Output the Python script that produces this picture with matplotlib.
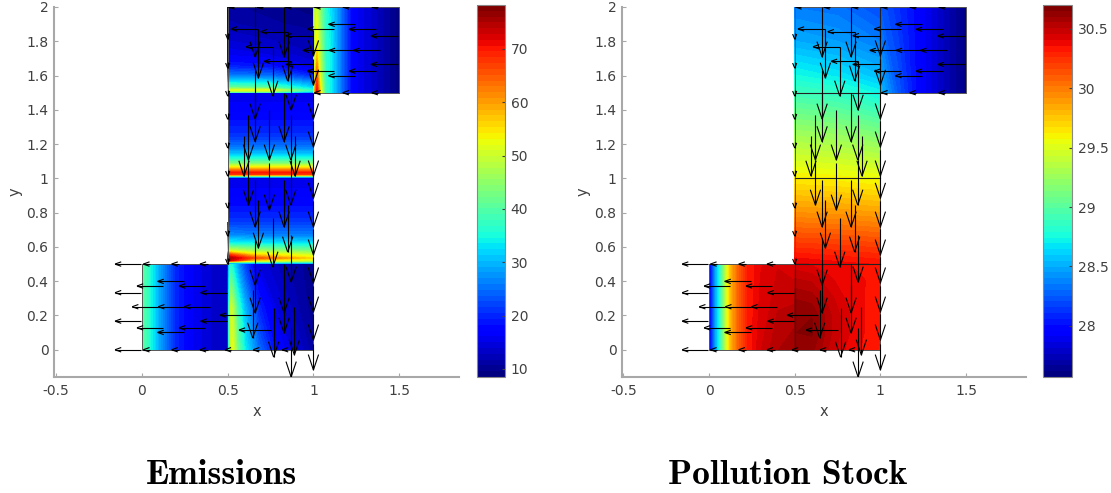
import matplotlib
matplotlib.use("Agg")
import matplotlib.pyplot as plt
import numpy as np
from matplotlib.cm import ScalarMappable
from matplotlib.collections import LineCollection
from matplotlib.colors import Normalize

GRAY = "#a8a8a8"
TEXT = "#404040"

# emissions field, one table per mesh block (rows follow y, columns follow x)
em_a_x = [0, 0.03, 0.06, 0.12, 0.2, 0.3, 0.4, 0.5]
em_a_y = [0, 0.5]
em_a = [[42, 38, 34, 27, 20, 16, 14, 13],
        [42, 38, 34, 27, 20, 16, 14, 13]]

em_b_x = [0.5, 0.505, 0.515, 0.53, 0.56, 0.6, 0.68, 0.78, 0.9, 1.0]
em_b_y = [0, 0.25, 0.5]
em_b = [[15, 33, 50, 52, 42, 34, 25, 18, 14, 11],
        [15, 33, 50, 48, 38, 30, 20, 15, 12, 10],
        [15, 30, 36, 34, 28, 22, 15, 13, 11, 10]]

em_c_x = [0.5, 0.65, 1.0]
em_c_y = [0.5, 0.508, 0.52, 0.535, 0.555, 0.58, 0.62, 0.67, 0.75, 0.85, 1.0]
em_c = [[20, 20, 20], [34, 34, 34], [75, 55, 50], [76, 66, 55], [68, 56, 50], [50, 46, 42],
        [35, 34, 33], [27, 26, 26], [21, 21, 21], [18, 18, 18], [15, 15, 15]]

em_d_x = [0.5, 1.0]
em_d_y = [1.0, 1.008, 1.02, 1.035, 1.06, 1.09, 1.125, 1.18, 1.25, 1.35, 1.5]
em_d = [[18, 18], [34, 34], [68, 68], [70, 70], [58, 58], [44, 44],
        [34, 34], [26, 26], [21, 21], [18, 18], [15, 15]]

em_e_x = [0.5, 0.75, 1.0]
em_e_y = [1.5, 1.505, 1.515, 1.53, 1.56, 1.6, 1.65, 1.72, 1.8, 1.9, 2.0]
em_e = [[25, 25, 20], [45, 45, 32], [52, 52, 36], [42, 40, 32], [34, 33, 27], [26, 25, 20],
        [20, 19, 15], [16, 15, 13], [14, 13, 12], [12, 11, 10], [11, 10, 9]]

em_f_x = [1.0, 1.005, 1.02, 1.04, 1.07, 1.1, 1.15, 1.23, 1.4, 1.5]
em_f_y = [1.5, 1.6, 1.75, 2.0]
em_f = [[32, 55, 72, 55, 38, 34, 27, 17, 12, 9],
        [32, 50, 65, 50, 37, 34, 27, 17, 12, 9],
        [32, 50, 55, 47, 37, 34, 27, 17, 12, 9],
        [32, 48, 50, 44, 36, 33, 27, 17, 12, 9]]

# pollution stock field
st_a_x = [0, 0.01, 0.03, 0.06, 0.1, 0.13, 0.17, 0.22, 0.3, 0.4, 0.5]
st_a_y = [0, 0.5]
st_a = [[27.9, 28.05, 28.4, 28.8, 29.5, 29.85, 30.1, 30.3, 30.45, 30.55, 30.6],
        [27.9, 28.05, 28.4, 28.8, 29.5, 29.85, 30.1, 30.3, 30.4, 30.45, 30.42]]

st_b_x = [0.5, 0.6, 0.7, 0.8, 0.9, 1.0]
st_b_y = [0, 0.1, 0.2, 0.3, 0.4, 0.5]
st_b = [[30.6, 30.62, 30.5, 30.4, 30.35, 30.3],
        [30.65, 30.66, 30.52, 30.42, 30.36, 30.32],
        [30.65, 30.65, 30.52, 30.42, 30.36, 30.33],
        [30.6, 30.58, 30.48, 30.4, 30.36, 30.33],
        [30.52, 30.5, 30.42, 30.38, 30.36, 30.34],
        [30.42, 30.4, 30.38, 30.36, 30.35, 30.34]]

st_c_x = [0.5, 0.75, 1.0]
st_c_y = [0.5, 0.6, 0.8, 1.0, 1.1, 1.25, 1.5, 1.6, 1.8, 2.0]
st_c = [[30.42, 30.38, 30.35], [30.25, 30.23, 30.2], [29.92, 29.9, 29.87], [29.62, 29.6, 29.56],
        [29.48, 29.45, 29.4], [29.28, 29.24, 29.15], [28.9, 28.85, 28.72], [28.75, 28.68, 28.55],
        [28.5, 28.45, 28.35], [28.35, 28.32, 28.2]]

st_f_x = [1.0, 1.1, 1.2, 1.3, 1.4, 1.5]
st_f_y = [1.5, 2.0]
st_f = [[28.55, 28.25, 28.02, 27.85, 27.72, 27.6],
        [28.25, 28.12, 28.0, 27.85, 27.72, 27.6]]

# transport arrows, shared by both panels
long_x = [0.66, 0.829, 0.679, 0.85, 0.763, 0.87, 0.66, 0.66, 0.829, 0.621, 0.743, 0.868, 0.595, 0.893, 0.621,
          0.743, 0.868, 0.66, 0.829, 0.679, 0.85, 0.763, 0.66, 0.87, 0.829, 0.66, 0.646, 0.829, 0.768, 0.889, 0.87]
long_tail = [2.0, 2.0, 1.871, 1.854, 1.766, 1.684, 1.632, 1.5, 1.5, 1.369, 1.398, 1.369, 1.247, 1.247, 1.107,
             1.089, 1.107, 0.99, 0.99, 0.873, 0.844, 0.768, 0.652, 0.669, 0.5, 0.5, 0.348, 0.377, 0.243, 0.249, 0.127]
long_tip = [1.708, 1.708, 1.585, 1.568, 1.48, 1.398, 1.346, 1.214, 1.214, 1.107, 1.107, 1.107, 1.013, 1.013, 0.844,
            0.815, 0.844, 0.716, 0.716, 0.593, 0.57, 0.482, 0.377, 0.395, 0.214, 0.214, 0.068, 0.097, -0.043, -0.031, -0.159]

edge_tip = [1.715, 1.544, 1.347, 1.183, 1.014, 0.884, 0.716, 0.553, 0.39, 0.22, 0.057, -0.118]
edge_tail = [1.865, 1.694, 1.497, 1.333, 1.164, 1.034, 0.866, 0.703, 0.54, 0.37, 0.207, 0.032]

short_tail = [1.847, 1.678, 1.515, 1.38, 1.212, 1.048, 0.862, 0.698, 0.535]
short_tip = [1.812, 1.643, 1.48, 1.345, 1.177, 1.013, 0.827, 0.663, 0.5]

left_y = [1.872, 1.856, 1.833, 1.872, 1.899, 1.87, 1.831, 1.768, 1.747, 1.747, 1.747, 1.683, 1.665, 1.665, 1.626,
          1.626, 1.599, 0.5, 0.399, 0.372, 0.372, 0.333, 0.333, 0.251, 0.251, 0.251, 0.202, 0.167, 0.167, 0.128,
          0.128, 0.115, 0.101, 0.0]
left_tail = [0.679, 0.85, 1.0, 1.121, 1.243, 1.364, 1.492, 0.763, 1.097, 1.247, 1.391, 0.87, 1.0, 1.492, 1.121,
             1.364, 1.243, -0.006, 0.247, 0.124, 0.368, -0.006, 0.494, 0.095, 0.247, 0.397, 0.636, -0.006, 0.494,
             0.124, 0.368, 0.751, 0.247, -0.006]
left_tip = [0.519, 0.693, 0.839, 0.965, 1.088, 1.208, 1.335, 0.607, 0.938, 1.091, 1.233, 0.712, 0.839, 1.335, 0.965,
            1.208, 1.088, -0.157, 0.091, -0.029, 0.216, -0.157, 0.342, -0.057, 0.095, 0.247, 0.455, -0.157, 0.342,
            -0.029, 0.216, 0.566, 0.091, -0.157]

stub_y = [2.0, 2.0, 2.0, 2.0, 2.0, 2.0, 1.5, 1.5, 1.5, 0.5, 0.5, 0.5, 0.0, 0.0, 0.0, 0.0, 0.0, 0.0]
stub_tail = [0.539, 0.704, 0.87, 1.041, 1.206, 1.375, 1.041, 1.206, 1.375, 0.047, 0.216, 0.383,
             0.047, 0.216, 0.383, 0.52, 0.683, 0.846]
stub_tip = [0.504, 0.669, 0.835, 1.006, 1.171, 1.34, 1.006, 1.171, 1.34, 0.008, 0.173, 0.338,
            0.008, 0.173, 0.338, 0.484, 0.648, 0.817]

x_ticks = [-0.5, 0, 0.5, 1, 1.5]
x_labels = ["-0.5", "0", "0.5", "1", "1.5"]
y_ticks = [0, 0.2, 0.4, 0.6, 0.8, 1, 1.2, 1.4, 1.6, 1.8, 2]
y_labels = ["0", "0.2", "0.4", "0.6", "0.8", "1", "1.2", "1.4", "1.6", "1.8", "2"]
em_range = (8.5, 78.2)
em_ticks = [10, 20, 30, 40, 50, 60, 70]
st_range = (27.57, 30.7)
st_ticks = [28, 28.5, 29, 29.5, 30, 30.5]
st_tick_labels = ["28", "28.5", "29", "29.5", "30", "30.5"]


def px_axes(fig, left, top, right, bottom):
    w, h = fig.canvas.get_width_height()
    return fig.add_axes([left / w, 1 - bottom / h, (right - left) / w, (bottom - top) / h])


def arrows(ax, tail_x, tail_y, tip_x, tip_y, head_len, head_half, lw=0.8):
    tail = np.column_stack([tail_x, tail_y]).astype(float)
    tip = np.column_stack([tip_x, tip_y]).astype(float)
    d = tail - tip
    d /= np.linalg.norm(d, axis=1, keepdims=True)
    n = np.column_stack([-d[:, 1], d[:, 0]])
    a = tip + head_len * d + head_half * n
    b = tip + head_len * d - head_half * n
    segs = np.concatenate([np.stack([tail, tip], axis=1), np.stack([a, tip], axis=1), np.stack([b, tip], axis=1)])
    ax.add_collection(LineCollection(segs, colors="#000000", linewidths=lw, zorder=5))


def draw_panel(ax, cax, blocks, vrange, cticks, clabels, title, title_x, inner_lines):
    cmap = plt.get_cmap("jet", 64)
    levels = np.linspace(vrange[0], vrange[1], 65)
    for xs, ys, table in blocks:
        ax.contourf(xs, ys, table, levels=levels, cmap=cmap, extend="both", antialiased=False)

    ax.plot([0.5, 1.5, 1.5, 1, 1, 0, 0, 0.5, 0.5], [2, 2, 1.5, 1.5, 0, 0, 0.5, 0.5, 2],
            color="#555555", lw=0.7, zorder=4)
    if inner_lines:
        ax.plot([0.5, 1], [1.5, 1.5], color="#222222", lw=0.8, zorder=4)
        ax.plot([0.5, 1], [1, 1], color="#222222", lw=0.8, zorder=4)
        ax.plot([0.5, 1], [0.5, 0.5], color="#222222", lw=0.8, zorder=4)
        ax.plot([0.5, 0.5], [0, 0.5], color="#222222", lw=0.8, zorder=4)
        ax.plot([1, 1], [1.5, 2], color="#222222", lw=0.8, zorder=4)

    arrows(ax, long_x, long_tail, long_x, long_tip, 0.09, 0.03)
    edge_x = [1.0] * len(edge_tip)
    arrows(ax, edge_x, edge_tail, edge_x, edge_tip, 0.09, 0.03)
    short_x = [0.5] * len(short_tip)
    arrows(ax, short_x, short_tail, short_x, short_tip, 0.03, 0.012)
    arrows(ax, left_tail, left_y, left_tip, left_y, 0.036, 0.013)
    arrows(ax, stub_tail, stub_y, stub_tip, stub_y, 0.036, 0.013)

    ax.set_xticks(x_ticks, x_labels)
    ax.set_yticks(y_ticks, y_labels)
    ax.tick_params(direction="in", length=3, width=0.8, color=GRAY, labelcolor=TEXT, labelsize=10, pad=5)
    ax.tick_params(axis="y", pad=4)
    ax.spines[["top", "right"]].set_visible(False)
    ax.spines[["left", "bottom"]].set_color(GRAY)
    ax.spines[["left", "bottom"]].set_linewidth(1.5)
    ax.set_xlabel("x", color=TEXT, fontsize=10.5, labelpad=4)
    ax.set_ylabel("y", color=TEXT, fontsize=10.5, labelpad=3)

    cb = ax.figure.colorbar(ScalarMappable(Normalize(*vrange), cmap), cax=cax)
    cb.set_ticks(cticks, labels=clabels)
    cax.tick_params(direction="in", length=2.5, width=0.8, color=TEXT, labelcolor=TEXT, labelsize=10, pad=4)
    cb.outline.set_edgecolor("#888888")
    cb.outline.set_linewidth(0.8)

    ax.figure.text(title_x / 1111, 1 - 476 / 493, title, family="cmb10", fontsize=25.5, color="black",
                   ha="center", va="center")


def main():
    fig = plt.figure(figsize=(11.11, 4.93), dpi=100)

    ax1 = px_axes(fig, 54, 7, 459, 377)
    cax1 = px_axes(fig, 477, 5, 505, 377)
    ax1.set_xlim(-0.513, 1.849)
    ax1.set_ylim(-0.159, 2)
    draw_panel(ax1, cax1,
               [(em_a_x, em_a_y, em_a), (em_b_x, em_b_y, em_b), (em_c_x, em_c_y, em_c),
                (em_d_x, em_d_y, em_d), (em_e_x, em_e_y, em_e), (em_f_x, em_f_y, em_f)],
               em_range, em_ticks, [str(t) for t in em_ticks], "Emissions", 221, False)

    ax2 = px_axes(fig, 622, 7, 1026, 377)
    cax2 = px_axes(fig, 1043, 5, 1072, 377)
    ax2.set_xlim(-0.508, 1.85)
    ax2.set_ylim(-0.159, 2)
    draw_panel(ax2, cax2,
               [(st_a_x, st_a_y, st_a), (st_b_x, st_b_y, st_b), (st_c_x, st_c_y, st_c), (st_f_x, st_f_y, st_f)],
               st_range, st_ticks, st_tick_labels, "Pollution Stock", 788, True)

    fig.savefig("out.png", dpi=100)


if __name__ == "__main__":
    main()
